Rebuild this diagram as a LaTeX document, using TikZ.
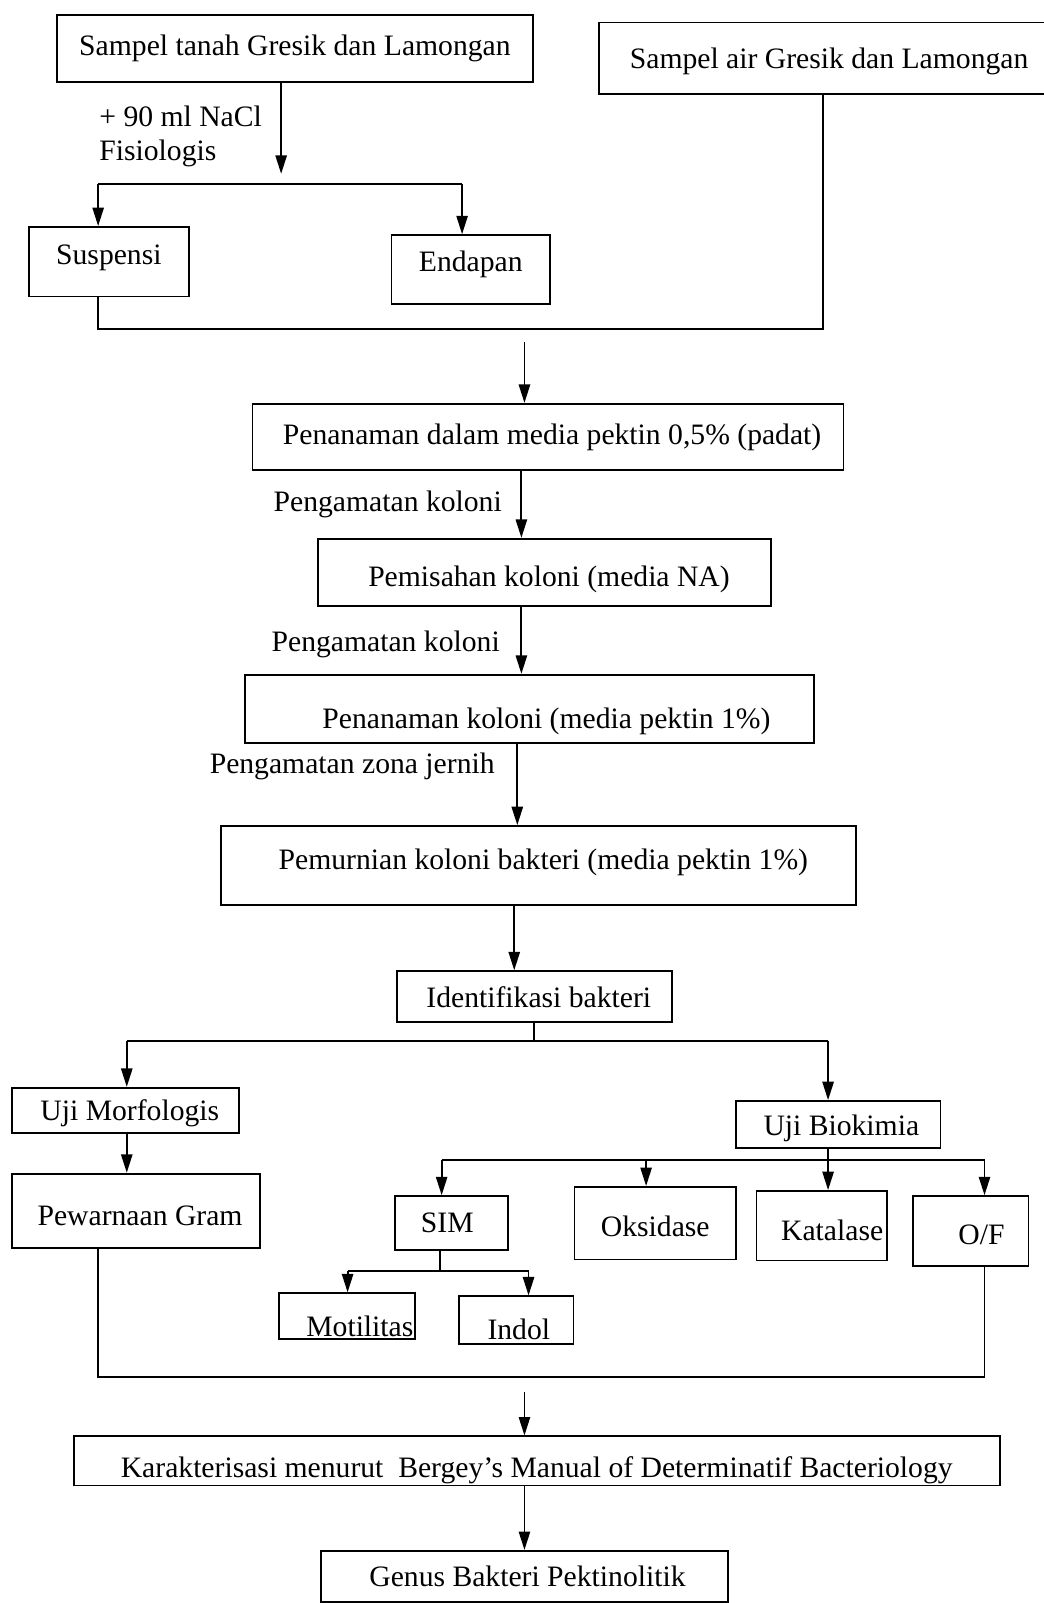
\documentclass[tikz,border=0pt]{standalone}
\usepackage{fontspec}
\setmainfont{Liberation Serif}
\usetikzlibrary{arrows.meta}
\newcommand\lowerby[2]{\raisebox{-#1}[\height][\depth]{#2}}

\begin{document}
\begin{tikzpicture}[x=1pt, y=-1pt, >={Triangle[length=18pt,width=11pt]}]
    \tikzset{box/.style={draw, line width=1.8pt, inner sep=0pt, font=\fontsize{29}{34}\selectfont},
             note/.style={inner sep=0pt, font=\fontsize{29}{34}\selectfont},
             link/.style={line width=1.8pt}}
    \useasboundingbox (0,0) rectangle (1021,1568);

    \node[box, minimum width=450, minimum height=70] (air) at (811,57) {\lowerby{3pt}{Sampel air Gresik dan Lamongan}};
    \node[box, minimum width=465, minimum height=65] (tanah) at (288.5,47.5) {Sampel tanah Gresik dan Lamongan};
    \node[box, minimum width=157, minimum height=68] (susp) at (106.5,256) {\lowerby{-4pt}{Suspensi}};
    \node[box, minimum width=155, minimum height=67] (endap) at (460.5,263.5) {\lowerby{-5pt}{Endapan}};
    \node[box, minimum width=578, minimum height=65] (tanam) at (536,427.5) {\hspace*{8pt}Penanaman dalam media pektin 0,5\% (padat)};
    \node[box, minimum width=443, minimum height=66] (pisah) at (532.5,560) {\hspace*{9pt}\lowerby{7pt}{Pemisahan koloni (media NA)}};
    \node[box, minimum width=556, minimum height=67] (koloni) at (518,693.5) {\hspace*{33pt}\lowerby{12pt}{Penanaman koloni (media pektin 1\%)}};
    \node[box, minimum width=621, minimum height=77] (murni) at (526.5,846.5) {\hspace*{10pt}\lowerby{-3pt}{Pemurnian koloni bakteri (media pektin 1\%)}};
    \node[box, minimum width=269, minimum height=50] (ident) at (522.5,975) {\hspace*{9pt}Identifikasi bakteri};
    \node[box, minimum width=222, minimum height=44] (morf) at (123,1086) {\hspace*{8pt}\lowerby{3pt}{Uji Morfologis}};
    \node[box, minimum width=200, minimum height=46] (bio) at (820,1100) {\hspace*{6pt}\lowerby{4pt}{Uji Biokimia}};
    \node[box, minimum width=242, minimum height=73] (gram) at (133,1184.5) {\hspace*{8pt}\lowerby{5pt}{Pewarnaan Gram}};
    \node[box, minimum width=111, minimum height=53] (sim) at (441.5,1196.5) {SIM\hspace*{8pt}};
    \node[box, minimum width=158, minimum height=71] (oks) at (641,1196.5) {\lowerby{3pt}{Oksidase}};
    \node[box, minimum width=128, minimum height=68] (kat) at (804,1199) {\hspace*{20pt}\lowerby{4pt}{Katalase}};
    \node[box, minimum width=113, minimum height=68] (of) at (949.5,1204) {\hspace*{21pt}\lowerby{4pt}{O/F}};
    \node[box, minimum width=133, minimum height=45] (motil) at (339.5,1287.5) {\hspace*{25pt}\lowerby{10pt}{Motilitas}};
    \node[box, minimum width=112, minimum height=47] (indol) at (505,1291.5) {\hspace*{5pt}\lowerby{9pt}{Indol}};
    \node[box, minimum width=906, minimum height=48] (karak) at (525,1429) {\lowerby{9pt}{Karakterisasi menurut\ \ Bergey’s Manual of Determinatif Bacteriology}};
    \node[box, minimum width=398, minimum height=50] (genus) at (513,1542) {\hspace*{6pt}Genus Bakteri Pektinolitik};

    \node[note, anchor=north west, align=left] (nacl) at (97,103) {+ 90 ml NaCl\\Fisiologis};
    \node[note, anchor=east] (amat1) at (491,493) {Pengamatan koloni};
    \node[note, anchor=east] (amat2) at (489,630) {Pengamatan koloni};
    \node[note, anchor=east] (amat3) at (484,750) {Pengamatan zona jernih};

    \coordinate (tEnd) at (275,170);
    \coordinate (sL) at (96,180);
    \coordinate (sR) at (452,180);
    \coordinate (jL) at (96,322);
    \coordinate (jR) at (805,322);
    \coordinate (jM) at (513,335);
    \coordinate (iL) at (124,1018);
    \coordinate (iR) at (810,1018);
    \coordinate (bL) at (432,1135);
    \coordinate (bO) at (632,1135);
    \coordinate (bM) at (810,1135);
    \coordinate (bR) at (963,1135);
    \coordinate (mM) at (430,1243);
    \coordinate (mL) at (340,1243);
    \coordinate (mR) at (517,1243);
    \coordinate (gL) at (96,1347);
    \coordinate (gR) at (963,1347);
    \coordinate (kM) at (513,1362);

    \draw[link, ->] (tanah.south -| tEnd) -- (tEnd);
    \draw[link] (sL) -- (sR);
    \draw[link, ->] (sL) -- (susp.north -| sL);
    \draw[link, ->] (sR) -- (endap.north -| sR);
    \draw[link] (susp.south -| jL) -- (jL) -- (jR) -- (air.south -| jR);
    \draw[link, ->] (jM) -- (tanam.north -| jM);
    \draw[link, ->] (tanam.south -| 510,0) -- (pisah.north -| 510,0);
    \draw[link, ->] (pisah.south -| 510,0) -- (koloni.north -| 510,0);
    \draw[link, ->] (koloni.south -| 506,0) -- (murni.north -| 506,0);
    \draw[link, ->] (murni.south -| 503,0) -- (ident.north -| 503,0);
    \draw[link] (ident.south) -- (ident.south |- iL);
    \draw[link] (iL) -- (iR);
    \draw[link, ->] (iL) -- (morf.north -| iL);
    \draw[link, ->] (iR) -- (bio.north -| iR);
    \draw[link, ->] (morf.south -| iL) -- (gram.north -| iL);
    \draw[link] (bio.south -| bM) -- (bM);
    \draw[link] (bL) -- (bR);
    \draw[link, ->] (bL) -- (sim.north -| bL);
    \draw[link, ->] (bO) -- (oks.north -| bO);
    \draw[link, ->] (bM) -- (kat.north -| bM);
    \draw[link, ->] (bR) -- (of.north -| bR);
    \draw[link] (sim.south -| mM) -- (mM);
    \draw[link] (mL) -- (mR);
    \draw[link, ->] (mL) -- (motil.north -| mL);
    \draw[link, ->] (mR) -- (indol.north -| mR);
    \draw[link] (gram.south -| gL) -- (gL) -- (gR) -- (of.south -| gR);
    \draw[link, ->] (kM) -- (karak.north -| kM);
    \draw[link, ->] (karak.south -| kM) -- (genus.north -| kM);
\end{tikzpicture}
\end{document}
